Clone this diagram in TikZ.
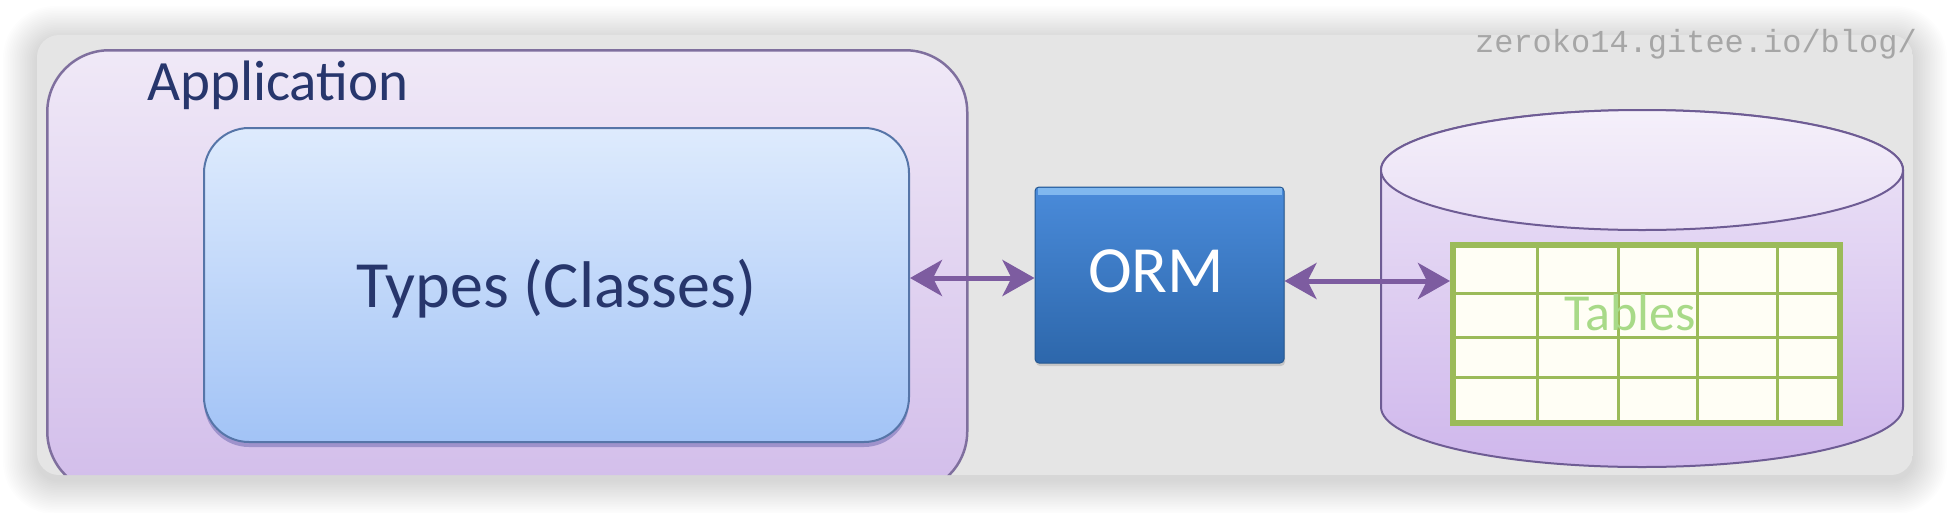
\documentclass[tikz,border=0pt]{standalone}
\usepackage{fontspec}
\setmainfont{Carlito}
\newfontfamily\wmfont{Liberation Mono}
\usetikzlibrary{arrows.meta,shadows}
\definecolor{panelgray}{HTML}{E5E5E5}
\definecolor{navytext}{HTML}{27366C}
\definecolor{apptop}{HTML}{F0E9F7}
\definecolor{appbot}{HTML}{D2BDEA}
\definecolor{appline}{HTML}{7F6F9E}
\definecolor{typestop}{HTML}{DEEBFD}
\definecolor{typesbot}{HTML}{A2C3F6}
\definecolor{typesline}{HTML}{5675A8}
\definecolor{ormtop}{HTML}{4A8BDA}
\definecolor{ormbot}{HTML}{2D67AB}
\definecolor{ormhl}{HTML}{86BDF2}
\definecolor{cyltop}{HTML}{EEE6F7}
\definecolor{cylbot}{HTML}{CFB7EC}
\definecolor{cylline}{HTML}{6E5C94}
\definecolor{tblgreen}{HTML}{9BBB59}
\definecolor{tbltext}{HTML}{A8DA88}
\definecolor{arrowc}{HTML}{7D5CA0}
\definecolor{wmgray}{HTML}{A6A6A6}
\begin{document}
\begin{tikzpicture}[x=1pt,y=-1pt,
  appbox/.style={draw=appline, line width=2.5pt, top color=apptop, bottom color=appbot, rounded corners=62pt, inner sep=0pt},
  typesbox/.style={draw=typesline, line width=2pt, top color=typestop, bottom color=typesbot, rounded corners=45pt, inner sep=0pt,
    drop shadow={shadow xshift=0pt, shadow yshift=-5pt, opacity=0.4, fill=black!55!blue!70}},
  ormbox/.style={draw=ormbot!85!black, line width=1pt, top color=ormtop, bottom color=ormbot, rounded corners=4pt, inner sep=0pt,
    drop shadow={shadow xshift=1pt, shadow yshift=-3pt, opacity=0.3}},
  tblbox/.style={draw=tblgreen, line width=6pt, fill=white!96!yellow, inner sep=0pt},
  gridln/.style={draw=tblgreen, line width=3pt},
  cylbody/.style={draw=cylline, line width=2pt, top color=cyltop, bottom color=cylbot},
  cyltopst/.style={draw=cylline, line width=2pt, top color=cyltop!60!white, bottom color=cyltop!85!cylbot},
  lbl/.style={inner sep=0pt, text=navytext},
  biarrow/.style={draw=arrowc, line width=5pt,
    {Stealth[length=32pt,width=36pt,inset=9pt]}-{Stealth[length=32pt,width=36pt,inset=9pt]}},
]
\useasboundingbox (0,0) rectangle (1948,512);
\fill[white] (0,0) rectangle (1948,512);
% soft shadow of the panel
\foreach \i [evaluate=\i as \r using 22+1.5*\i, evaluate=\i as \d using 1.7*\i] in {1,...,20} {
  \fill[black, opacity=0.0065, rounded corners=\r pt] (37-\d,35-\d+5) rectangle (1913+\d,475+\d+5);
}
\begin{scope}
  \clip[rounded corners=22pt] (37,35) rectangle (1913,475);
  \fill[panelgray] (37,35) rectangle (1913,475);
  % Application
  \node[appbox, anchor=north west, minimum width=920pt, minimum height=443pt] (app) at (46,49) {};
  \node[lbl, anchor=base west, font=\fontsize{57}{62}\selectfont] (applbl) at (147,100) {Application};
  % Types
  \node[typesbox, minimum width=705pt, minimum height=314pt] (types) at (556.5,285) {};
  \node[lbl, anchor=base, font=\fontsize{66}{72}\selectfont] (typeslbl) at (556.5,307) {Types (Classes)};
  % ORM
  \node[ormbox, minimum width=249pt, minimum height=176pt] (orm) at (1159.5,275) {};
  \fill[ormhl, opacity=0.9] ([xshift=3pt,yshift=-1.5pt]orm.north west) rectangle ([xshift=-3pt,yshift=-8pt]orm.north east);
  \node[inner sep=0pt, anchor=base, text=white, font=\fontsize{66}{72}\selectfont] (ormlbl) at (1156,292) {ORM};
  % cylinder
  \path[cylbody] (1381,170) -- (1381,407) arc[start angle=180, end angle=0, x radius=261, y radius=60]
     -- (1903,170) arc[start angle=0, end angle=-180, x radius=261, y radius=60] -- cycle;
  \path[cyltopst] (1642,170) ellipse [x radius=261, y radius=60];
  % table
  \node[tblbox, minimum width=387pt, minimum height=178pt] (tbl) at (1646.5,334) {};
  \foreach \x in {1537,1618,1697,1777} \draw[gridln] (\x,245) -- (\x,423);
  \foreach \y in {293,337,377} \draw[gridln] (1453,\y) -- (1840,\y);
  \node[inner sep=0pt, anchor=base, text=tbltext, font=\fontsize{52}{60}\selectfont] (tbllbl) at (1630,330) {Tables};
  % connectors
  \draw[biarrow] ([yshift=7pt]types.east) -- ([yshift=7pt]types.east -| orm.west);
  \draw[biarrow] ([yshift=-6pt]orm.east) -- ([yshift=-6pt]orm.east -| tbl.west);
\end{scope}
\node[inner sep=0pt, anchor=base east, text=wmgray, font=\wmfont\fontsize{32}{36}\selectfont] (wm) at (1917,52) {zeroko14.gitee.io/blog/};
\end{tikzpicture}
\end{document}
